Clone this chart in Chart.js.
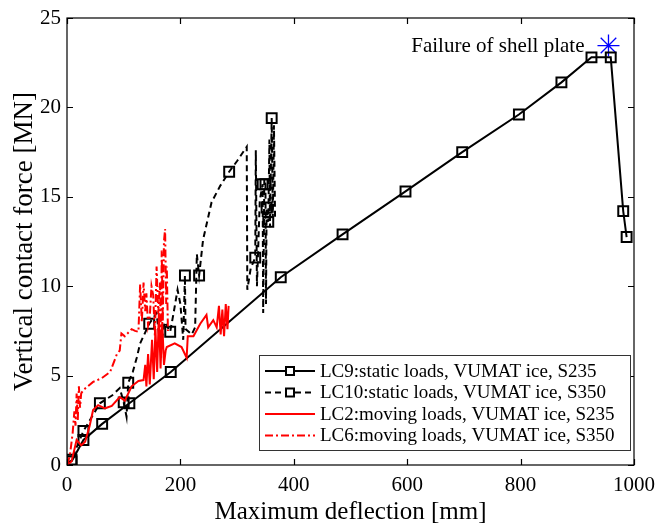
<!DOCTYPE html>
<html>
<head>
<meta charset="utf-8">
<script src="https://cdn.jsdelivr.net/npm/chart.js@4.4.0/dist/chart.umd.min.js"></script>
<style>
  html, body { margin: 0; padding: 0; background: #fff; overflow: hidden; }
  #wrap { width: 656px; height: 527px; }
</style>
</head>
<body>
<div id="wrap"><canvas id="c"></canvas></div>
<script>
// LC9: static loads, S235 (all points carry a marker)
const lc9X = [8, 29, 62, 110, 183, 377, 486, 597, 697, 797, 872, 925, 959, 981, 987];
const lc9Y = [0.2, 1.4, 2.3, 3.45, 5.2, 10.5, 12.9, 15.3, 17.5, 19.6, 21.4, 22.8, 22.8, 14.2, 12.75];

// LC10: static loads, S350
const lc10X = [0, 8, 29, 58, 80, 93, 100, 105, 108, 116, 123, 129, 145, 158, 165, 172, 182, 188, 195,
  200, 205, 208, 209, 220, 226, 229, 233, 240, 255, 270, 286, 300, 317, 318, 324, 332, 333, 335, 340,
  345, 346, 348, 350, 351, 352, 355, 357, 358, 361, 363, 365, 367];
const lc10Y = [0, 0.3, 1.9, 3.45, 3.9, 4.3, 3.5, 2.7, 4.6, 5.2, 6.0, 6.8, 7.9, 8.5, 6.5, 8.0, 7.45, 8.5, 9.8,
  9.0, 7.0, 10.6, 7.6, 7.3, 7.7, 11.8, 10.6, 12.6, 14.7, 15.6, 16.4, 17.0, 17.8, 9.8, 11.0, 11.6, 17.6, 10.0, 14.8,
  15.7, 8.5, 16.0, 15.7, 9.0, 14.4, 13.6, 18.2, 13.3, 19.4, 13.8, 19.0, 13.7];
const lc10MarkX = [8, 29, 58, 100, 108, 145, 182, 208, 233, 286, 332, 345, 350, 352, 355, 361];
const lc10MarkY = [0.3, 1.9, 3.45, 3.5, 4.6, 7.9, 7.45, 10.6, 10.6, 16.4, 11.6, 15.7, 15.7, 14.4, 13.6, 19.4];

// LC2: moving loads, S235
const lc2X = [0, 8, 17, 25, 32, 40, 46, 55, 67, 79, 93, 102, 114, 126, 135, 138, 140, 143, 146, 150, 153,
  156, 159, 162, 165, 168, 171, 174, 176, 190, 202, 211, 213, 223, 235, 246, 249, 258, 264, 268, 271, 274,
  277, 280, 283, 285];
const lc2Y = [0, 0.2, 1.4, 1.1, 1.3, 2.2, 3.07, 3.35, 3.17, 3.3, 3.8, 3.6, 4.4, 4.7, 4.75, 5.6, 4.4, 6.2, 4.5, 7.0, 4.8,
  7.6, 5.2, 8.5, 5.4, 8.0, 5.6, 6.4, 6.6, 6.8, 6.6, 6.0, 7.2, 7.2, 7.9, 8.4, 7.7, 8.1, 7.7, 8.9, 7.3, 8.7,
  7.2, 9.0, 7.6, 8.9];

// LC6: moving loads, S350
const lc6X = [0, 5, 10, 13, 15, 17, 19, 21, 23, 25, 29, 46, 61, 76, 88, 93, 96, 102, 108, 114, 120, 126,
  129, 132, 135, 138, 140, 143, 146, 149, 152, 155, 158, 161, 164, 166, 167, 169, 171, 173, 175, 176, 178];
const lc6Y = [0, 0.5, 1.8, 3.0, 2.2, 4.0, 2.5, 4.4, 3.2, 4.0, 4.2, 4.65, 4.85, 5.2, 6.2, 6.4, 7.36, 7.2, 7.4, 7.6, 7.5, 7.45,
  10.1, 8.0, 10.2, 8.6, 9.6, 7.8, 8.3, 10.0, 9.5, 7.2, 11.1, 8.5, 10.2, 6.0, 12.0, 8.0, 12.5, 13.2, 9.0, 11.1, 7.5];

// failure point
const failX = [955];
const failY = [23.46];
const failLabel = "Failure of shell plate";

const xTicks = [0, 200, 400, 600, 800, 1000];
const yTicks = [0, 5, 10, 15, 20, 25];

const legendItems = [
  { text: "LC9:static loads, VUMAT ice, S235", color: "#000", dash: [], marker: true },
  { text: "LC10:static loads, VUMAT ice, S350", color: "#000", dash: [6, 4], marker: true },
  { text: "LC2:moving loads, VUMAT ice, S235", color: "#ff0000", dash: [], marker: false },
  { text: "LC6:moving loads, VUMAT ice, S350", color: "#ff0000", dash: [8, 3, 2, 3], marker: false },
];

const FONT = "'Liberation Serif', 'Times New Roman', serif";

function pts(xs, ys) {
  return xs.map((x, i) => ({ x: x, y: ys[i] }));
}

// frame and inward ticks, MATLAB style
const framePlugin = {
  id: "frame",
  afterDatasetsDraw(chart) {
    const { ctx, chartArea: a, scales } = chart;
    ctx.save();
    ctx.strokeStyle = "#000";
    ctx.lineWidth = 1.2;
    ctx.setLineDash([]);
    ctx.strokeRect(a.left, a.top, a.right - a.left, a.bottom - a.top);
    const t = 6;
    ctx.beginPath();
    xTicks.forEach((v) => {
      const px = Math.round(scales.x.getPixelForValue(v)) + 0.5;
      ctx.moveTo(px, a.bottom); ctx.lineTo(px, a.bottom - t);
      ctx.moveTo(px, a.top); ctx.lineTo(px, a.top + t);
    });
    yTicks.forEach((v) => {
      const py = Math.round(scales.y.getPixelForValue(v)) + 0.5;
      ctx.moveTo(a.left, py); ctx.lineTo(a.left + t, py);
      ctx.moveTo(a.right, py); ctx.lineTo(a.right - t, py);
    });
    ctx.stroke();

    // failure label
    const sx = scales.x.getPixelForValue(failX[0]);
    const sy = scales.y.getPixelForValue(failY[0]);
    ctx.fillStyle = "#000";
    ctx.font = "21px " + FONT;
    ctx.textAlign = "right";
    ctx.textBaseline = "middle";
    ctx.fillText(failLabel, sx - 24, sy + 1);
    ctx.restore();
  },
};

// legend box inside the plot, bottom right
const legendPlugin = {
  id: "boxLegend",
  afterDraw(chart) {
    const { ctx, chartArea: a } = chart;
    const w = 371, h = 95;
    const x0 = a.right - 4 - w;
    const y0 = a.bottom - 15 - h;
    ctx.save();
    ctx.fillStyle = "#fff";
    ctx.fillRect(x0, y0, w, h);
    ctx.strokeStyle = "#333";
    ctx.lineWidth = 1;
    ctx.strokeRect(x0 + 0.5, y0 + 0.5, w, h);
    ctx.font = "19px " + FONT;
    ctx.textBaseline = "middle";
    ctx.textAlign = "left";
    legendItems.forEach((it, i) => {
      const y = y0 + 16 + i * 21.5;
      ctx.strokeStyle = it.color;
      ctx.lineWidth = 2;
      ctx.setLineDash(it.dash);
      ctx.beginPath();
      ctx.moveTo(x0 + 6, y);
      ctx.lineTo(x0 + 56, y);
      ctx.stroke();
      ctx.setLineDash([]);
      if (it.marker) {
        ctx.fillStyle = "#fff";
        ctx.fillRect(x0 + 27, y - 4, 8, 8);
        ctx.strokeRect(x0 + 27, y - 4, 8, 8);
      }
      ctx.fillStyle = "#000";
      ctx.fillText(it.text, x0 + 61, y + 1);
    });
    ctx.restore();
  },
};

new Chart(document.getElementById("c"), {
  type: "scatter",
  data: {
    datasets: [
      {
        label: "LC2",
        data: pts(lc2X, lc2Y),
        showLine: true,
        borderColor: "#ff0000",
        borderWidth: 2,
        pointRadius: 0,
        tension: 0,
      },
      {
        label: "LC6",
        data: pts(lc6X, lc6Y),
        showLine: true,
        borderColor: "#ff0000",
        borderWidth: 2,
        borderDash: [8, 3, 2, 3],
        pointRadius: 0,
      },
      {
        label: "LC10",
        data: pts(lc10X, lc10Y),
        showLine: true,
        borderColor: "#000",
        borderWidth: 2,
        borderDash: [6, 4],
        pointRadius: 0,
      },
      {
        label: "LC10 markers",
        data: pts(lc10MarkX, lc10MarkY),
        showLine: false,
        pointStyle: "rect",
        pointRadius: 7,
        pointBorderWidth: 2,
        pointBorderColor: "#000",
        pointBackgroundColor: "rgba(0,0,0,0)",
      },
      {
        label: "LC9",
        data: pts(lc9X, lc9Y),
        showLine: true,
        borderColor: "#000",
        borderWidth: 2,
        pointStyle: "rect",
        pointRadius: 7,
        pointBorderWidth: 2,
        pointBorderColor: "#000",
        pointBackgroundColor: "rgba(0,0,0,0)",
      },
      {
        label: "Failure",
        data: pts(failX, failY),
        showLine: false,
        pointStyle: "star",
        pointRadius: 11,
        pointBorderWidth: 1.3,
        pointBorderColor: "#0000ff",
      },
    ],
  },
  options: {
    responsive: true,
    maintainAspectRatio: false,
    animation: false,
    layout: { padding: { top: 18, right: 22, left: 0, bottom: 0 } },
    plugins: {
      legend: { display: false },
      tooltip: { enabled: false },
    },
    scales: {
      x: {
        type: "linear",
        min: 0,
        max: 1000,
        afterFit: (s) => { s.height = 62; s.paddingLeft = 0; s.paddingRight = 0; },
        afterBuildTicks: (s) => { s.ticks = xTicks.map((v) => ({ value: v })); },
        grid: { display: false, drawTicks: false },
        border: { display: false },
        ticks: {
          padding: 8,
          color: "#000",
          font: { family: FONT, size: 21 },
          maxRotation: 0,
          callback: (v) => String(v),
        },
        title: {
          display: true,
          text: "Maximum deflection [mm]",
          color: "#000",
          font: { family: FONT, size: 25 },
          padding: { top: 0, bottom: 0 },
        },
      },
      y: {
        type: "linear",
        min: 0,
        max: 25,
        afterFit: (s) => { s.width = 67; s.paddingTop = 0; s.paddingBottom = 0; },
        afterBuildTicks: (s) => { s.ticks = yTicks.map((v) => ({ value: v })); },
        grid: { display: false, drawTicks: false },
        border: { display: false },
        ticks: {
          padding: 6,
          color: "#000",
          font: { family: FONT, size: 21 },
          callback: (v) => String(v),
        },
        title: {
          display: true,
          text: "Vertical contact force [MN]",
          color: "#000",
          font: { family: FONT, size: 27 },
          padding: { top: 9, bottom: 0 },
        },
      },
    },
  },
  plugins: [framePlugin, legendPlugin],
});
</script>
</body>
</html>
